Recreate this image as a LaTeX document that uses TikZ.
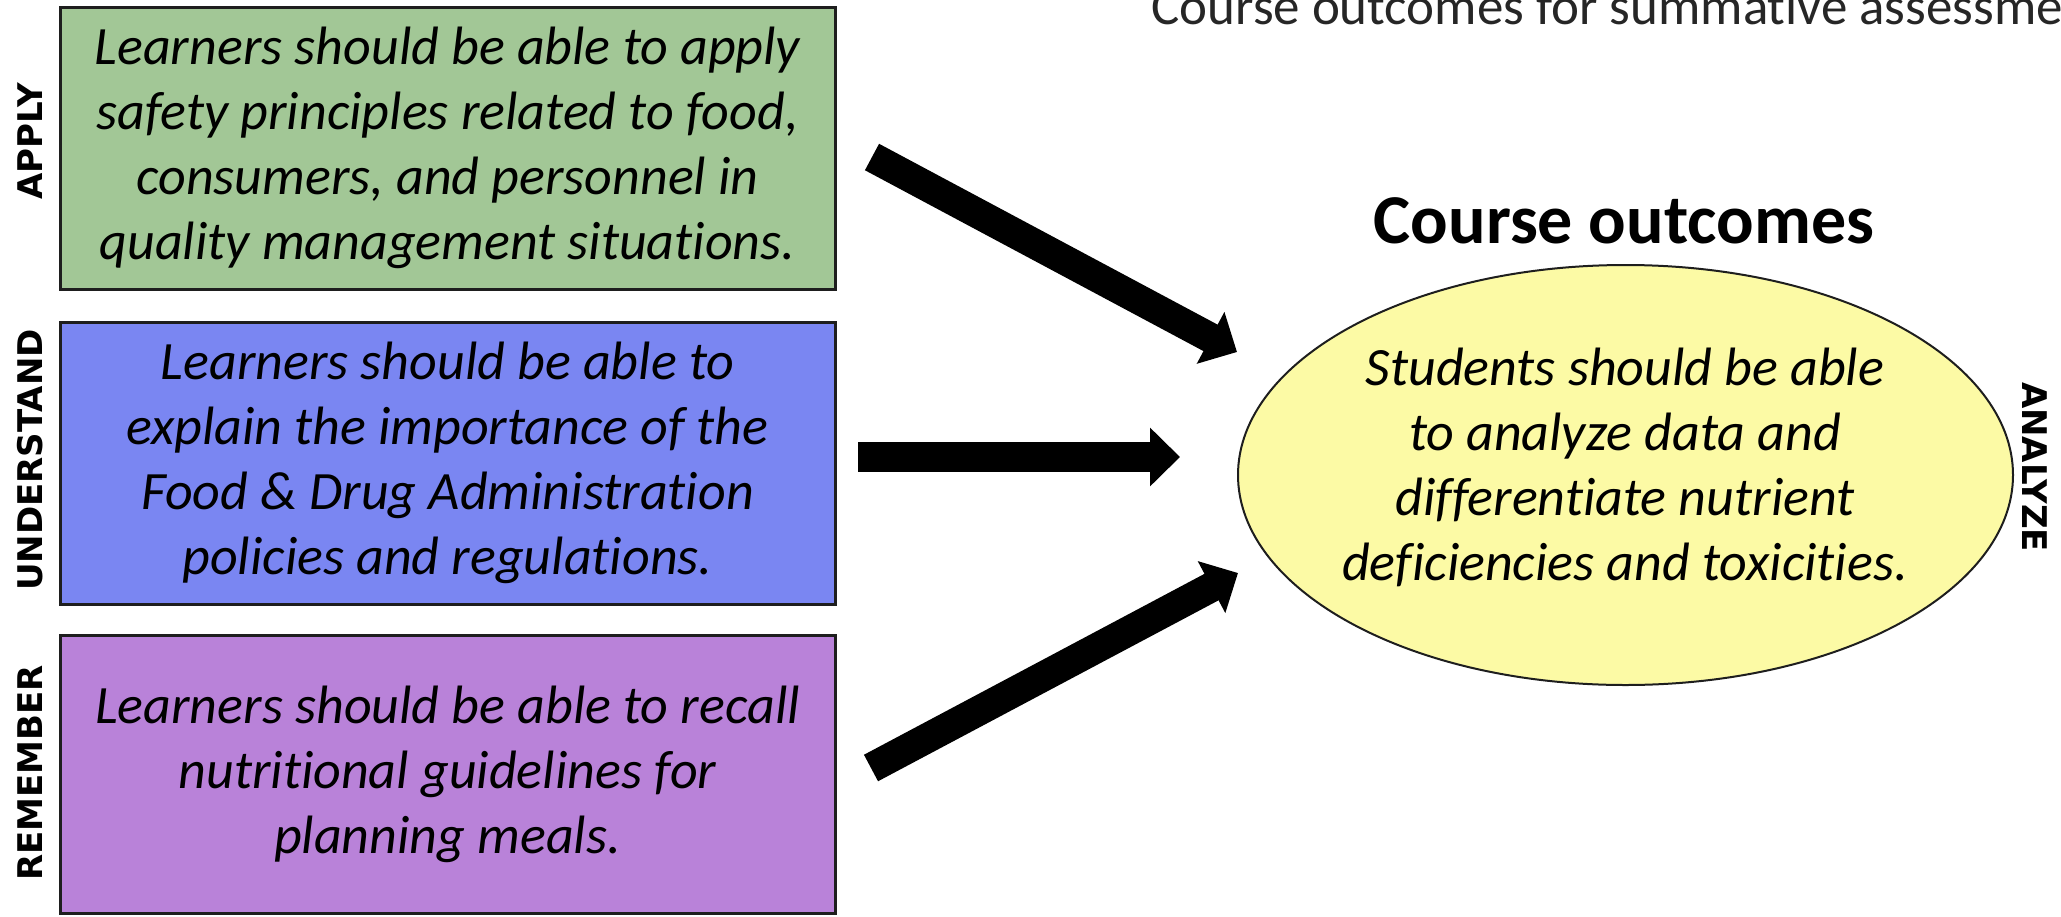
\documentclass[tikz,border=0pt]{standalone}
\usepackage{fontspec}
\setmainfont{Carlito}[Ligatures=NoCommon]
\newfontfamily\lblfont{DejaVu Sans}
\usetikzlibrary{shapes.geometric,arrows.meta}
\definecolor{applyfill}{RGB}{162,199,150}
\definecolor{underfill}{RGB}{122,134,242}
\definecolor{rememfill}{RGB}{185,130,217}
\definecolor{outfill}{RGB}{252,250,165}
\definecolor{edgecol}{RGB}{30,30,30}
\begin{document}
\begin{tikzpicture}[x=0.5pt,y=-0.5pt,
  levelbox/.style={draw=edgecol,line width=1.5pt,minimum width=387.5pt,inner sep=0pt,align=center,font=\fontsize{27}{32.5}\selectfont\itshape},
  bodytext/.style={inner sep=0pt,align=center,font=\fontsize{27}{32.5}\selectfont\itshape},
  sidelabel/.style={inner sep=0pt,font=\lblfont\bfseries\fontsize{17}{20}\selectfont},
  outcomeshape/.style={ellipse,draw=edgecol,line width=1pt,fill=outfill,minimum width=387.5pt,minimum height=210pt,inner sep=0pt},
  bigarrow/.style={draw=black,line width=15pt,-{Triangle[length=15pt,width=28.5pt]}}
]
\useasboundingbox (0,0) rectangle (2061,916);
\clip (0,0) rectangle (2061,916);

\node[levelbox,fill=applyfill,minimum height=141pt] (apply) at (447.5,148)
  {Learners should be able to apply\\safety principles related to food,\\consumers, and personnel in\\quality management situations.};
\node[levelbox,fill=underfill,minimum height=141pt] (understand) at (447.5,463)
  {Learners should be able to\\explain the importance of the\\Food \& Drug Administration\\policies and regulations.};
\node[levelbox,fill=rememfill,minimum height=139pt] (remember) at (447.5,774)
  {Learners should be able to recall\\nutritional guidelines for\\planning meals.};

\node[sidelabel,rotate=90] (applylbl) at (30,141) {APPLY};
\node[sidelabel,rotate=90] (understandlbl) at (30,460) {UNDERSTAND};
\node[sidelabel,rotate=90] (rememberlbl) at (30,773) {REMEMBER};
\node[sidelabel,rotate=-90] (analyzelbl) at (2035,467) {ANALYZE};

\node[outcomeshape] (outcome) at (1625.5,475) {};
\node[bodytext] (outcometext) at (1625,467)
  {Students should be able\\to analyze data and\\differentiate nutrient\\deficiencies and toxicities.};
\node[inner sep=0pt,anchor=base,font=\fontsize{35}{42}\selectfont\bfseries] (outtitle) at (1624,243) {Course outcomes};
\node[inner sep=0pt,anchor=base west,text=black!85,font=\fontsize{26.5}{32}\selectfont] (toptitle) at (1151,24) {Course outcomes for summative assessment};

\coordinate (a1s) at (872,157);
\coordinate (a1e) at (1237,352);
\coordinate (a2s) at (858,457);
\coordinate (a2e) at (1180,457);
\coordinate (a3s) at (871,768);
\coordinate (a3e) at (1238,573);
\draw[bigarrow] (a1s) -- (a1e);
\draw[bigarrow] (a2s) -- (a2e);
\draw[bigarrow] (a3s) -- (a3e);
\end{tikzpicture}
\end{document}
